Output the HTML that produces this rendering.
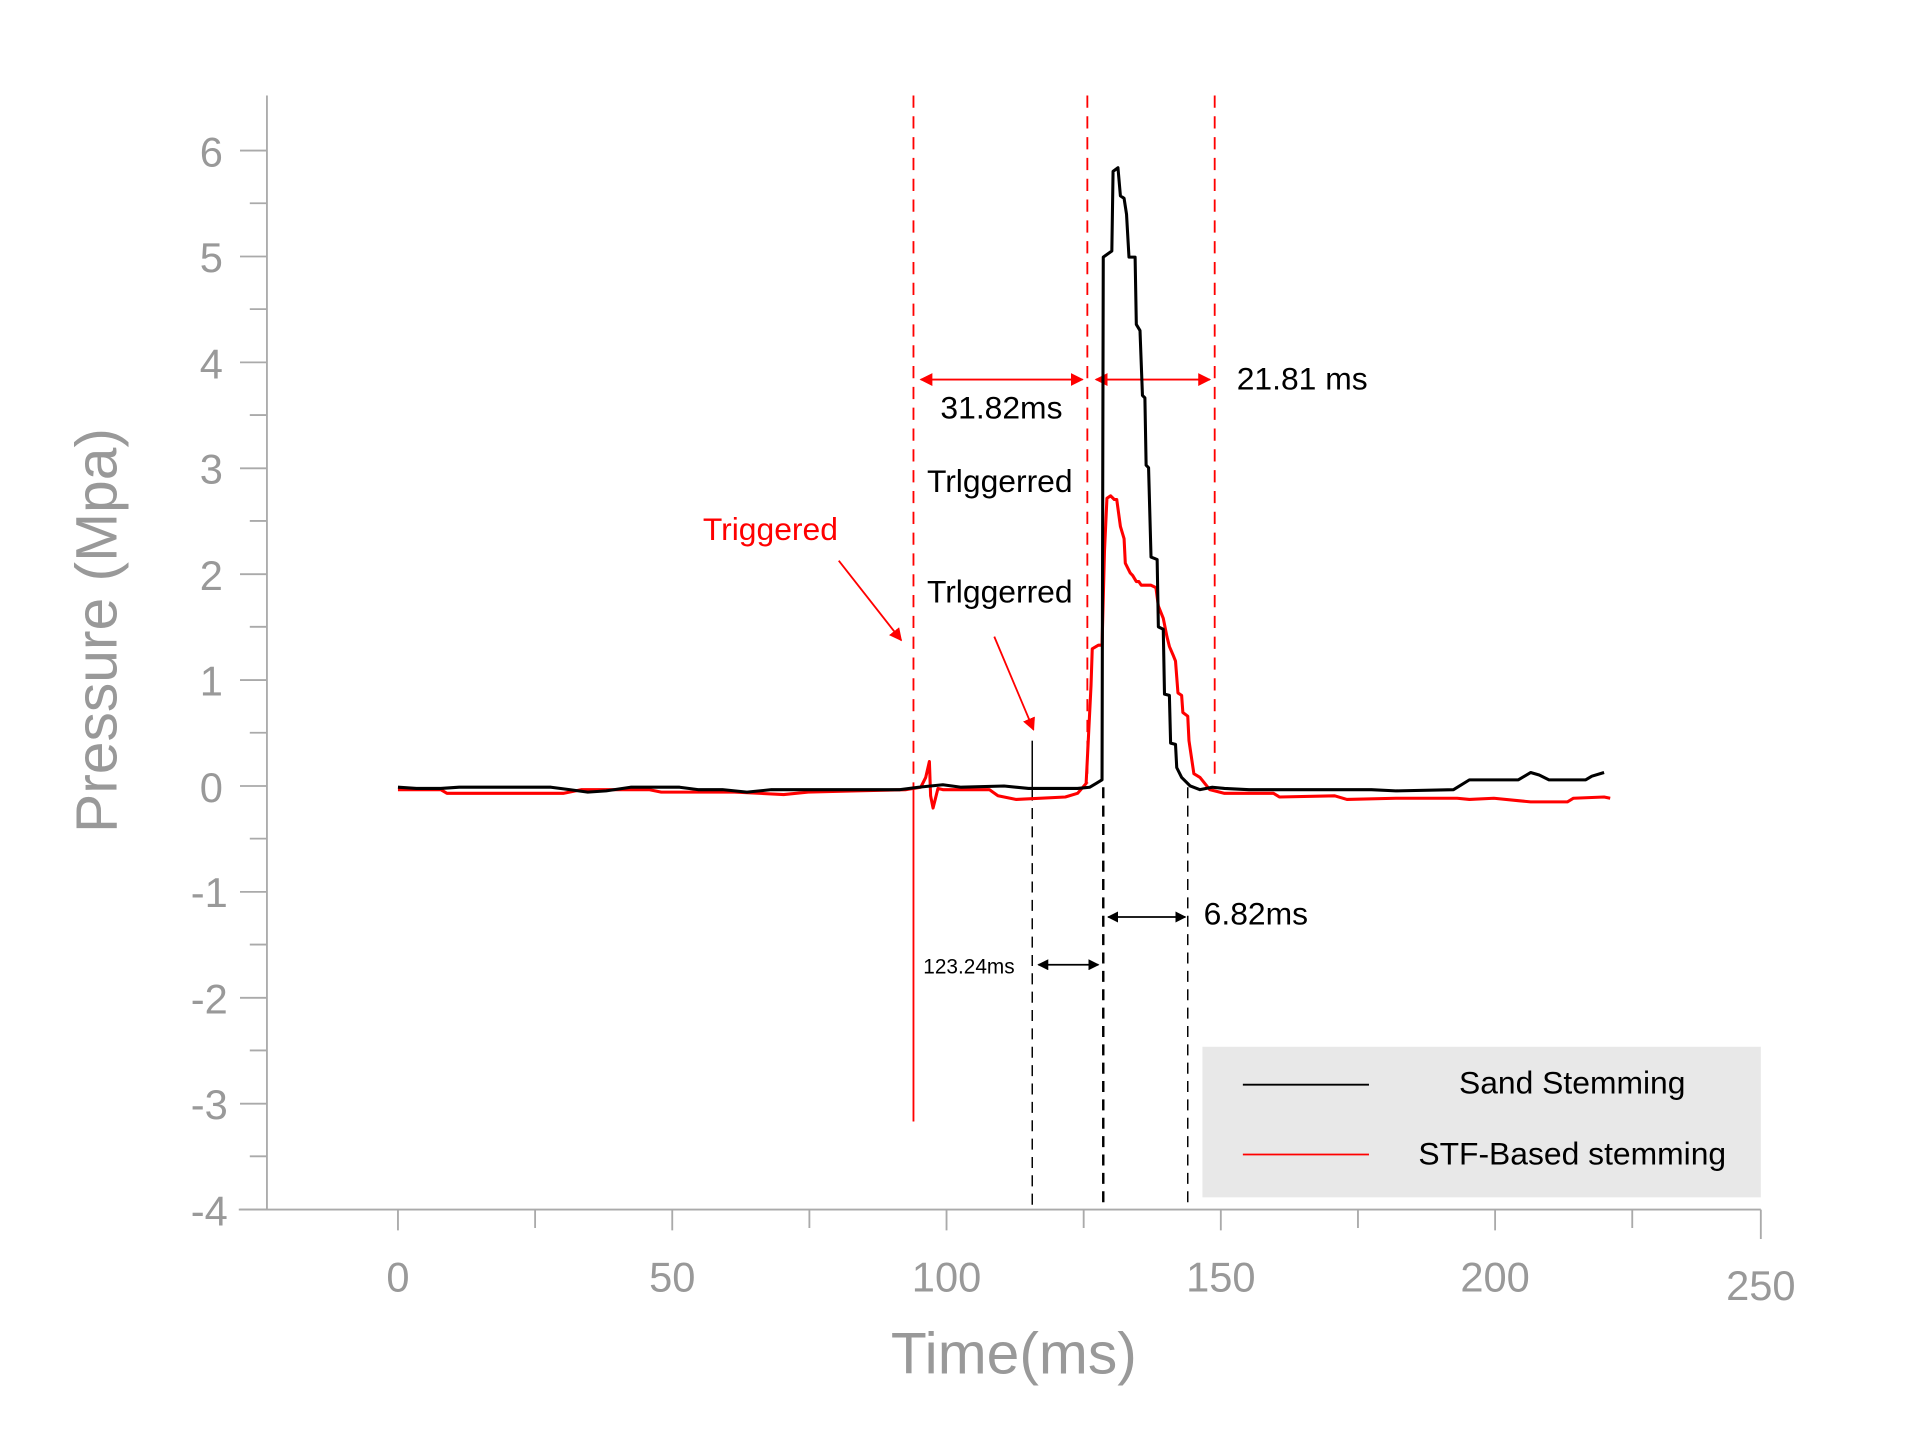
<!DOCTYPE html>
<html><head><meta charset="utf-8"><style>
html,body{margin:0;padding:0;background:#fff;}
svg{display:block;}
text{font-family:"Liberation Sans","Noto Sans CJK SC",sans-serif;}
</style></head><body>
<svg width="1920" height="1452" viewBox="0 0 1568 1186" preserveAspectRatio="none" xmlns="http://www.w3.org/2000/svg">
<defs>
<marker id="ar" viewBox="0 0 10 10" refX="9" refY="5" markerWidth="7" markerHeight="7" orient="auto-start-reverse"><path d="M0,0L10,5L0,10z" fill="#f00"/></marker>
<marker id="ab" viewBox="0 0 10 10" refX="9" refY="5" markerWidth="6" markerHeight="6" orient="auto-start-reverse"><path d="M0,0L10,5L0,10z" fill="#000"/></marker>
</defs>
<rect width="1568" height="1186" fill="#fff"/>
<!-- axes -->
<g stroke="#aaa" stroke-width="1.5" fill="none">
<line x1="218" y1="78" x2="218" y2="988"/>
<line x1="195" y1="988" x2="1438" y2="988"/>
<path d="M196,123H218M196,209.5H218M196,296H218M196,382.5H218M196,469H218M196,555.5H218M196,642H218M196,728.5H218M196,815H218M196,901.5H218M196,988H218"/>
<path d="M204,166H218M204,252.5H218M204,339H218M204,425.5H218M204,512H218M204,598.5H218M204,685H218M204,771.5H218M204,858H218M204,944.5H218"/>
<path d="M325,988V1005M437,988V1003M549,988V1005M661,988V1003M773,988V1005M885,988V1003M997,988V1005M1109,988V1003M1221,988V1005M1333,988V1003M1438,988V1012"/>
</g>
<g fill="#999" font-size="34" text-anchor="end">
<text x="182" y="136">6</text><text x="182" y="222">5</text><text x="182" y="309">4</text><text x="182" y="395">3</text><text x="182" y="482">2</text><text x="182" y="568">1</text><text x="182" y="655">0</text><text x="186" y="741">-1</text><text x="186" y="828">-2</text><text x="186" y="914">-3</text><text x="186" y="1001">-4</text>
</g>
<g fill="#999" font-size="34" text-anchor="middle">
<text x="325" y="1055">0</text><text x="549" y="1055">50</text><text x="773" y="1055">100</text><text x="997" y="1055">150</text><text x="1221" y="1055">200</text><text x="1438" y="1062">250</text>
</g>
<text x="828" y="1122" fill="#999" font-size="48" text-anchor="middle">Time(ms)</text>
<text transform="translate(95,515) rotate(-90)" fill="#999" font-size="48" text-anchor="middle">Pressure (Mpa)</text>
<!-- guide lines -->
<g stroke="#f00" stroke-width="1.5" stroke-dasharray="10,7" fill="none">
<line x1="746" y1="78" x2="746" y2="643"/><line x1="888" y1="78" x2="888" y2="640"/><line x1="992" y1="78" x2="992" y2="635"/>
</g>
<line x1="746" y1="643" x2="746" y2="916" stroke="#f00" stroke-width="1.5"/>
<line x1="843" y1="605" x2="843" y2="645" stroke="#000" stroke-width="1.2"/>
<g stroke="#000" stroke-dasharray="9,6" fill="none">
<line x1="843" y1="645" x2="843" y2="988" stroke-width="1.2"/>
<line x1="901" y1="643" x2="901" y2="988" stroke-width="2"/>
<line x1="970" y1="643" x2="970" y2="988" stroke-width="1.2"/>
</g>
<!-- arrows -->
<g stroke="#f00" stroke-width="1.5">
<line x1="752" y1="310" x2="884" y2="310" marker-start="url(#ar)" marker-end="url(#ar)"/>
<line x1="895" y1="310" x2="988" y2="310" marker-start="url(#ar)" marker-end="url(#ar)"/>
<line x1="685" y1="458" x2="736" y2="523" marker-end="url(#ar)"/>
<line x1="812" y1="520" x2="844" y2="596" marker-end="url(#ar)"/>
</g>
<g stroke="#000" stroke-width="1.5">
<line x1="905" y1="749" x2="968" y2="749" marker-start="url(#ab)" marker-end="url(#ab)"/>
<line x1="848" y1="788" x2="897" y2="788" marker-start="url(#ab)" marker-end="url(#ab)"/>
</g>
<g font-size="26" fill="#000">
<text x="768" y="342">31.82ms</text>
<text x="1010" y="318">21.81 ms</text>
<text x="757" y="402">Trlggerred</text>
<text x="757" y="492">Trlggerred</text>
<text x="983" y="755">6.82ms</text>
<text x="754" y="795" font-size="17">123.24ms</text>
<text x="574" y="441" fill="#f00">Triggered</text>
</g>
<!-- data -->
<polyline fill="none" stroke="#f00" stroke-width="2.5" stroke-linejoin="round" points="325,645 360,645 365,648 460,648 475,645 530,645 540,647 600,647 640,649 660,647 700,646 740,645 752,643 756,635 759,622 760,650 762,660 764,652 766,644 770,645 800,645 808,645 815,650 830,653 870,651 880,648 887,640 889,600 891,560 892,530 897,527 900,527 902,450 904,407 907,405 910,408 912,408 915,430 918,440 919,460 923,468 925,470 928,475 930,475 932,478 940,478 944,480 946,495 950,505 953,520 955,528 958,535 960,540 962,566 965,568 966,582 970,585 971,605 975,632 980,635 988,645 1000,648 1040,648 1045,651 1090,650 1100,653 1140,652 1190,652 1200,653 1220,652 1240,654 1250,655 1280,655 1285,652 1310,651 1315,652"/>
<polyline fill="none" stroke="#000" stroke-width="2.5" stroke-linejoin="round" points="325,643 340,644 360,644 375,643 450,643 465,645 480,647 495,646 515,643 555,643 570,645 590,645 610,647 630,645 700,645 735,645 750,643 770,641 785,643 820,642 840,644 880,644 890,643 895,640 900,637 901,210 908,205 909,140 913,137 915,160 918,162 920,175 922,210 927,210 928,265 931,270 933,323 935,325 936,380 938,382 940,455 945,457 946,512 950,514 951,567 955,568 956,607 960,608 961,627 965,635 972,642 980,645 990,643 1000,644 1020,645 1100,645 1120,645 1140,646 1187,645 1200,637 1240,637 1250,631 1257,633 1265,637 1295,637 1300,634 1310,631"/>
<!-- legend -->
<rect x="982" y="855" width="456" height="123" fill="#e8e8e8"/>
<line x1="1015" y1="886" x2="1118" y2="886" stroke="#000" stroke-width="1.5"/>
<line x1="1015" y1="943" x2="1118" y2="943" stroke="#f00" stroke-width="1.5"/>
<text x="1284" y="893" font-size="26" text-anchor="middle">Sand Stemming</text>
<text x="1284" y="951" font-size="26" text-anchor="middle">STF-Based stemming</text>
</svg>
</body></html>
